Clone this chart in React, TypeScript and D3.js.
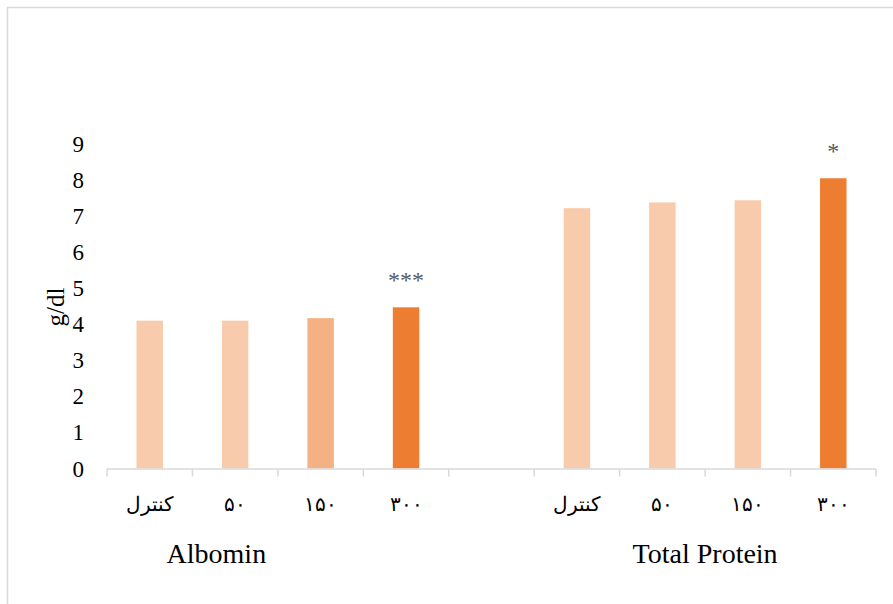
import React from "react";
import * as d3 from "d3";

const groups = ["Albomin", "Total Protein"];
const doses = ["کنترل", "۵۰", "۱۵۰", "۳۰۰"];
const albominValues = [4.1, 4.1, 4.17, 4.47];
const totalProteinValues = [7.22, 7.38, 7.44, 8.05];
const albominStars = ["", "", "", "***"];
const totalProteinStars = ["", "", "", "*"];
const yTicks = [0, 1, 2, 3, 4, 5, 6, 7, 8, 9];

const albominColors = ["#F8CBAD", "#F8CBAD", "#F4B183", "#ED7D31"];
const totalProteinColors = ["#F8CBAD", "#F8CBAD", "#F8CBAD", "#ED7D31"];

const W = 893;
const H = 604;

type Slot = { key: string; label: string; value: number | null; color: string; star: string };

export default function App() {
  const slots: Slot[] = [];
  doses.forEach((d, i) =>
    slots.push({ key: "a" + i, label: d, value: albominValues[i], color: albominColors[i], star: albominStars[i] })
  );
  slots.push({ key: "gap", label: "", value: null, color: "none", star: "" });
  doses.forEach((d, i) =>
    slots.push({ key: "t" + i, label: d, value: totalProteinValues[i], color: totalProteinColors[i], star: totalProteinStars[i] })
  );

  const x = d3.scaleBand<string>().domain(slots.map((s) => s.key)).range([107, 876]).padding(0);
  const y = d3.scaleLinear().domain([0, 9]).range([468.5, 144]);
  const bw = x.bandwidth() * 0.31;
  const step = x.step();
  const serif = "'Liberation Serif', 'Times New Roman', serif";
  const arabicFont = "'DejaVu Sans', sans-serif";

  const tickXs = slots.map((s) => x(s.key)!).concat([x.range()[1]]);

  return (
    <div style={{ position: "absolute", left: 0, top: 0 }}>
      <svg width={W} height={H} style={{ display: "block", background: "#fff" }}>
        <rect x={7.5} y={7.5} width={W + 10} height={H + 10} fill="#fff" stroke="#D9D9D9" strokeWidth={1.5} />
        {/* bars */}
        {slots.map((s) =>
          s.value === null ? null : (
            <rect
              key={s.key}
              x={x(s.key)! + (x.bandwidth() - bw) / 2}
              y={y(s.value)}
              width={bw}
              height={y(0) - y(s.value)}
              fill={s.color}
            />
          )
        )}
        {/* significance */}
        {slots.map((s) =>
          s.star && s.value !== null ? (
            <text
              key={"st" + s.key}
              x={x(s.key)! + x.bandwidth() / 2}
              y={y(s.value) - 19}
              textAnchor="middle"
              fontFamily={serif}
              fontSize={24}
              fill="#595959"
            >
              {s.star}
            </text>
          ) : null
        )}
        {/* x axis */}
        <line x1={x.range()[0]} x2={x.range()[1]} y1={y(0) + 0.5} y2={y(0) + 0.5} stroke="#D9D9D9" strokeWidth={1.5} />
        {tickXs.map((tx, i) => (
          <line key={"tk" + i} x1={tx} x2={tx} y1={y(0) + 0.5} y2={y(0) + 8} stroke="#D9D9D9" strokeWidth={1.5} />
        ))}
        {/* category labels */}
        {slots.map((s) =>
          s.label ? (
            <text
              key={"lb" + s.key}
              x={x(s.key)! + x.bandwidth() / 2}
              y={511}
              textAnchor="middle"
              fontFamily={arabicFont}
              fontSize={20}
              fontWeight={300}
              fill="#000"
            >
              {s.label}
            </text>
          ) : null
        )}
        {/* group labels */}
        <text x={x.range()[0] + step * 1.28} y={563} textAnchor="middle" fontFamily={serif} fontSize={28} fill="#000">
          {groups[0]}
        </text>
        <text x={(x("t0")! + x.range()[1]) / 2} y={563} textAnchor="middle" fontFamily={serif} fontSize={28} fill="#000">
          {groups[1]}
        </text>
        {/* y ticks */}
        {yTicks.map((t) => (
          <text key={"yt" + t} x={84} y={y(t) + 8} textAnchor="end" fontFamily={serif} fontSize={23} fill="#000">
            {t}
          </text>
        ))}
        {/* y title */}
        <text
          transform={`translate(64, 307) rotate(-90)`}
          textAnchor="middle"
          fontFamily={serif}
          fontSize={25}
          fill="#000"
        >
          g/dl
        </text>
      </svg>
    </div>
  );
}
